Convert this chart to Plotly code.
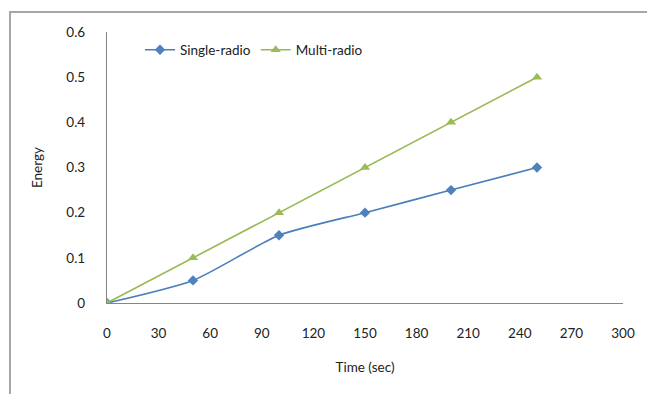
import plotly.graph_objects as go

# Energy consumed over time for the two radio configurations
time_sec = [0, 50, 100, 150, 200, 250]
single_radio = [0, 0.05, 0.15, 0.2, 0.25, 0.3]
multi_radio = [0, 0.1, 0.2, 0.3, 0.4, 0.5]

x_ticks = [0, 30, 60, 90, 120, 150, 180, 210, 240, 270, 300]
y_ticks = [0, 0.1, 0.2, 0.3, 0.4, 0.5, 0.6]
y_tick_text = ["0", "0.1", "0.2", "0.3", "0.4", "0.5", "0.6"]

FONT = "Lato"
BLUE_LINE = "#4a7ebb"
BLUE_MARK = "#4f81bd"
GREEN_LINE = "#98b954"
GREEN_MARK = "#9bbb59"

fig = go.Figure()
fig.add_trace(go.Scatter(
    x=time_sec, y=single_radio, name="Single-radio",
    mode="lines+markers", line=dict(color=BLUE_LINE, width=1.6, shape="spline", smoothing=0.6),
    marker=dict(symbol="diamond", size=8, color=BLUE_MARK),
))
fig.add_trace(go.Scatter(
    x=time_sec, y=multi_radio, name="Multi-radio",
    mode="lines+markers", line=dict(color=GREEN_LINE, width=1.6),
    marker=dict(symbol="triangle-up", size=9, color=GREEN_MARK),
))

# Plot area spans 107..623 px horizontally and 32..303 px vertically
W, H = 647, 394
L, R, T, B = 107, 24, 32, 91
pw, ph = W - L - R, H - T - B

def px_x(px):
    return (px - L) / pw

def px_y(py):
    return (H - B - py) / ph

fig.update_layout(
    width=W, height=H,
    margin=dict(l=L, r=R, t=T, b=B),
    paper_bgcolor="white", plot_bgcolor="white",
    font=dict(family=FONT, size=13.5, color="#222222"),
    showlegend=True,
    legend=dict(
        orientation="h", x=px_x(140), y=px_y(50), xanchor="left", yanchor="middle",
        bgcolor="rgba(0,0,0,0)", font=dict(size=13.5), itemwidth=30,
    ),
    xaxis=dict(
        range=[0, 300], tickvals=x_ticks, showgrid=False, zeroline=False,
        showline=True, linecolor="#868686", linewidth=1.2,
        ticks="outside", ticklen=0, ticklabelstandoff=18,
        title=dict(text="Time (sec)", font=dict(size=13.5), standoff=22),
    ),
    yaxis=dict(
        range=[0, 0.6], tickvals=y_ticks, ticktext=y_tick_text, showgrid=False, zeroline=False,
        showline=True, linecolor="#868686", linewidth=1.2,
        ticks="outside", ticklen=0, ticklabelstandoff=18,
        title=dict(text="Energy", font=dict(size=13.5), standoff=20),
    ),
)

# Chart-area frame, running off the right and bottom edges of the page
fig.add_shape(
    type="rect", xref="paper", yref="paper",
    x0=px_x(10), x1=px_x(700), y0=px_y(450), y1=px_y(12),
    line=dict(color="#a6a6a6", width=2), fillcolor="rgba(0,0,0,0)", layer="below",
)

fig.write_html("out.html")
